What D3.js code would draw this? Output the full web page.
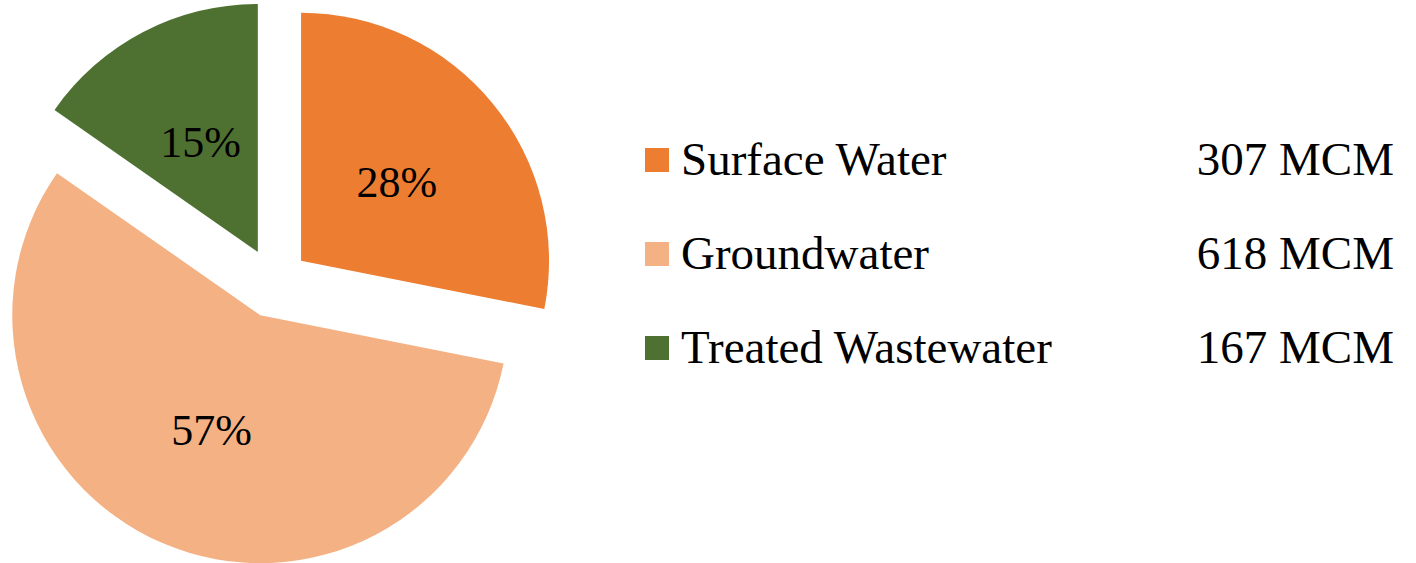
<!DOCTYPE html>
<html>
<head>
<meta charset="utf-8">
<script src="https://cdn.jsdelivr.net/npm/d3@7"></script>
<style>
  html, body { margin: 0; padding: 0; background: #fff; }
  svg { display: block; }
</style>
</head>
<body>
<svg class="pie_chart" width="1416" height="563"></svg>
<script>
// data
var sources = ["Surface Water", "Groundwater", "Treated Wastewater"];
var volumes = [307, 618, 167];
var unit = "MCM";
var colors = ["#ED7D31", "#F4B183", "#4E7131"];

var svg = d3.select(".pie_chart");
var font = "'Liberation Serif', 'Times New Roman', serif";

var cx = 274, cy = 283, radius = 248, explode = 35;

var data = sources.map(function (s, i) { return { name: s, value: volumes[i] }; });
var total = d3.sum(volumes);
var pct = d3.format(".0%");

var color = d3.scaleOrdinal().domain(sources).range(colors);

var pie = d3.pie().sort(null).value(function (d) { return d.value; });
var arc = d3.arc().innerRadius(0).outerRadius(radius);

var g = svg.append("g").attr("transform", "translate(" + cx + "," + cy + ")");

var slice = g.selectAll(".slice")
  .data(pie(data))
  .enter().append("g")
    .attr("class", "slice")
    .attr("transform", function (d) {
      var a = (d.startAngle + d.endAngle) / 2;
      return "translate(" + (explode * Math.sin(a)) + "," + (-explode * Math.cos(a)) + ")";
    });

slice.append("path")
  .attr("d", arc)
  .style("fill", function (d) { return color(d.data.name); });

slice.append("text")
  .attr("transform", function (d) { return "translate(" + arc.centroid(d) + ")"; })
  .attr("text-anchor", "middle")
  .attr("dy", "0.35em")
  .style("font", "44px " + font)
  .style("fill", "#000")
  .text(function (d) { return pct(d.data.value / total); });

// legend
var y = d3.scalePoint().domain(sources).range([175, 363]);

var legend = svg.selectAll(".legend")
  .data(data)
  .enter().append("g")
    .attr("class", "legend")
    .attr("transform", function (d) { return "translate(0," + y(d.name) + ")"; });

legend.append("rect")
  .attr("x", 645)
  .attr("y", -27)
  .attr("width", 24)
  .attr("height", 24)
  .style("fill", function (d) { return color(d.name); });

legend.append("text")
  .attr("x", 681)
  .style("font", "47px " + font)
  .style("fill", "#000")
  .text(function (d) { return d.name; });

legend.append("text")
  .attr("x", 1394)
  .attr("text-anchor", "end")
  .style("font", "47px " + font)
  .style("fill", "#000")
  .text(function (d) { return d.value + " " + unit; });
</script>
</body>
</html>
